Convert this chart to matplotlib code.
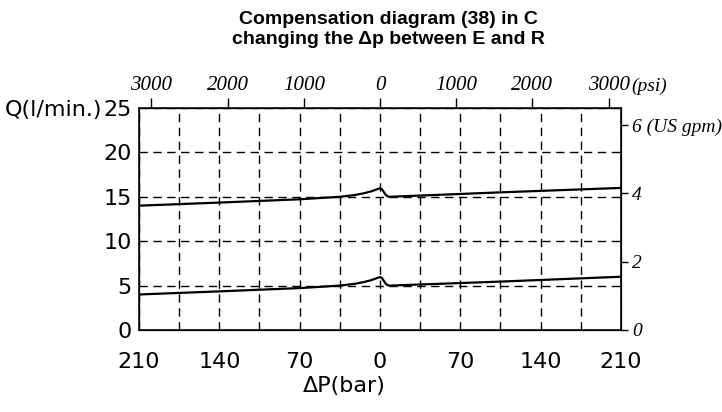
import matplotlib
matplotlib.use('Agg')
import matplotlib.pyplot as plt

# pressure difference (bar), left side is E>R, right side R>E
dp = [-210, -140, -70, -35, -22, -14, -8, -4, -1.5, 0, 1.5, 3, 4.5, 6, 8, 105, 210]
q_upper = [14.0, 14.35, 14.72, 15.0, 15.2, 15.4, 15.6, 15.78, 15.9, 15.95, 15.88, 15.6, 15.3, 15.1, 15.0, 15.5, 16.0]
q_lower = [4.0, 4.35, 4.72, 5.0, 5.2, 5.4, 5.6, 5.78, 5.9, 5.95, 5.88, 5.6, 5.3, 5.1, 5.0, 5.45, 6.0]

bar_ticks = [-210, -175, -140, -105, -70, -35, 0, 35, 70, 105, 140, 175, 210]
bar_labels = ['210', '', '140', '', '70', '', '0', '', '70', '', '140', '', '210']
q_ticks = [0, 5, 10, 15, 20, 25]

psi_ticks = [-3000, -2000, -1000, 0, 1000, 2000, 3000]
psi_labels = ['3000', '2000', '1000', '0', '1000', '2000', '3000']
gpm_ticks = [0, 2, 4, 6]
gpm_labels = ['0', '2', '4', '6 (US gpm)']

BAR_PER_PSI = 0.0664
LPM_PER_GPM = 3.85

tick_font = dict(family='DejaVu Sans', size=16)
ital = dict(family='Liberation Serif', style='italic', size=14)
ital_top = dict(family='Liberation Serif', style='italic', size=15)

fig = plt.figure(figsize=(7.22, 4.12), dpi=100)
ax = fig.add_axes([139/722, 1-330/412, 482/722, 222/412])

ax.plot(dp, q_upper, color='black', lw=1.6)
ax.plot(dp, q_lower, color='black', lw=1.6)

ax.set_xlim(-210, 210)
ax.set_ylim(0, 25)
ax.set_xticks(bar_ticks)
ax.set_xticklabels(bar_labels, fontdict=tick_font)
ax.set_yticks(q_ticks)
ax.set_yticklabels([str(v) for v in q_ticks], fontdict=tick_font)
ax.tick_params(axis='x', length=0, pad=16)
ax.tick_params(axis='y', length=0, pad=5)
ax.grid(True, color='black', linestyle=(0, (6, 4)), lw=1)
for s in ax.spines.values():
    s.set_linewidth(1.1)

# psi scale on top
top = ax.twiny()
top.set_xlim(-210, 210)
top.set_xticks([p * BAR_PER_PSI for p in psi_ticks])
top.set_xticklabels(psi_labels, fontdict=ital_top)
top.tick_params(axis='x', length=7, width=1, pad=2, direction='out')

# US gpm scale on right
right = ax.twinx()
right.set_ylim(0, 25)
right.set_yticks([g * LPM_PER_GPM for g in gpm_ticks])
right.set_yticklabels(gpm_labels, fontdict=ital)
right.tick_params(axis='y', length=5, width=1, pad=3, direction='out')

fig.text(631/722, 1-91/412, '(psi)', ha='left', va='baseline', **ital)
fig.text(54/722, 1-110/412, 'Q(l/min.)', ha='center', va='center', **tick_font)
fig.text(344/722, 1-386/412, 'ΔP(bar)', ha='center', va='center', **tick_font)

fig.text(388/722, 1-19/412, 'Compensation diagram (38) in C', ha='center', va='center',
         family='Liberation Sans', weight='bold', size=14)
fig.text(388/722, 1-39/412, 'changing the Δp between E and R', ha='center', va='center',
         family='Liberation Sans', weight='bold', size=14)

fig.savefig('out.png', dpi=100)
